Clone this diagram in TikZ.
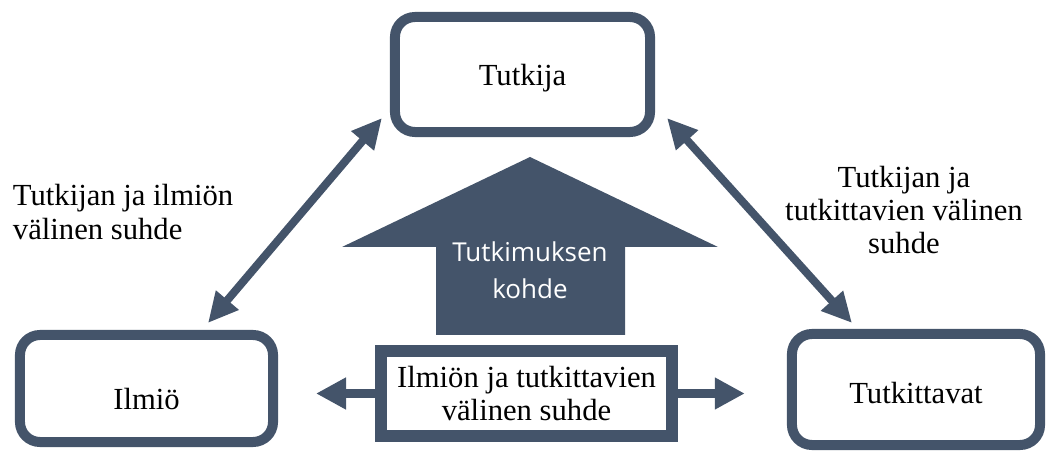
\documentclass[tikz,border=0pt]{standalone}
\usepackage{fontspec}
\setmainfont{Liberation Serif}
\newfontfamily\kohdefont{Open Sans}
\usetikzlibrary{arrows.meta}
\definecolor{slate}{HTML}{44546A}

\begin{document}
\begin{tikzpicture}[x=0.025cm,y=-0.025cm,
	txt/.style={font=\fontsize{21.8}{23.5}\selectfont},
	roundbox/.style={draw=slate,line width=0.25cm,rounded corners=0.5cm,fill=white,txt,text depth=0pt},
	relbox/.style={draw=slate,line width=0.3cm,fill=white,align=center,txt},
	twoway/.style={slate,line width=0.2cm,{Triangle[width=0.7cm,length=0.75cm]}-{Triangle[width=0.7cm,length=0.75cm]}},
	oneway/.style={slate,line width=0.22cm,-{Triangle[width=0.75cm,length=0.75cm]}}]
	
	\useasboundingbox (0,0) rectangle (1048,452);
	
	% Big arrow
	\fill[slate] (530,157) -- (718,247) -- (625,247) -- (625,335) -- (436,335) -- (436,247) -- (342,247) -- cycle;
	\node[white,align=center,font=\kohdefont\fontsize{18.5}{26}\selectfont] (kohde) at (530,270) {Tutkimuksen\\kohde};
	
	% Boxes
	\node[roundbox,text height=15.6pt,minimum width=6.375cm,minimum height=2.875cm] (tutkija) at (522.5,74.5) {Tutkija};
	\node[roundbox,text height=29.8pt,minimum width=6.325cm,minimum height=2.675cm] (ilmio) at (146.5,388.5) {Ilmiö};
	\node[roundbox,text height=20.6pt,minimum width=6.2cm,minimum height=2.775cm] (tutkittavat) at (916,389.5) {Tutkittavat};
	\node[relbox,minimum width=7.275cm,minimum height=2.125cm] (suhde) at (526.5,393.5) {Ilmiön ja tutkittavien\\välinen suhde};
	
	% Arrow ends
	\coordinate (ilmio-up) at ([shift={(61.5,-7)}]ilmio.north);
	\coordinate (tutkija-sw) at ([shift={(-8,-19)}]tutkija.south west);
	\coordinate (tutkija-se) at ([shift={(12,-19)}]tutkija.south east);
	\coordinate (tutkittavat-up) at ([shift={(-64,-6)}]tutkittavat.north);
	\coordinate (ilmio-right) at ([xshift=27]ilmio.east |- suhde.west);
	\coordinate (tutkittavat-left) at ([xshift=-30]tutkittavat.west |- suhde.east);
	
	% Arrows
	\draw[twoway] (ilmio-up) -- (tutkija-sw);
	\draw[twoway] (tutkija-se) -- (tutkittavat-up);
	\draw[oneway] (suhde.west) -- (ilmio-right);
	\draw[oneway] (suhde.east) -- (tutkittavat-left);
	
	% Labels
	\node[txt,align=left,anchor=west] (vasen) at (8,212) {Tutkijan ja ilmiön\\välinen suhde};
	\node[txt,align=center] (oikea) at (904,210) {Tutkijan ja\\tutkittavien välinen\\suhde};
	
\end{tikzpicture}
\end{document}
